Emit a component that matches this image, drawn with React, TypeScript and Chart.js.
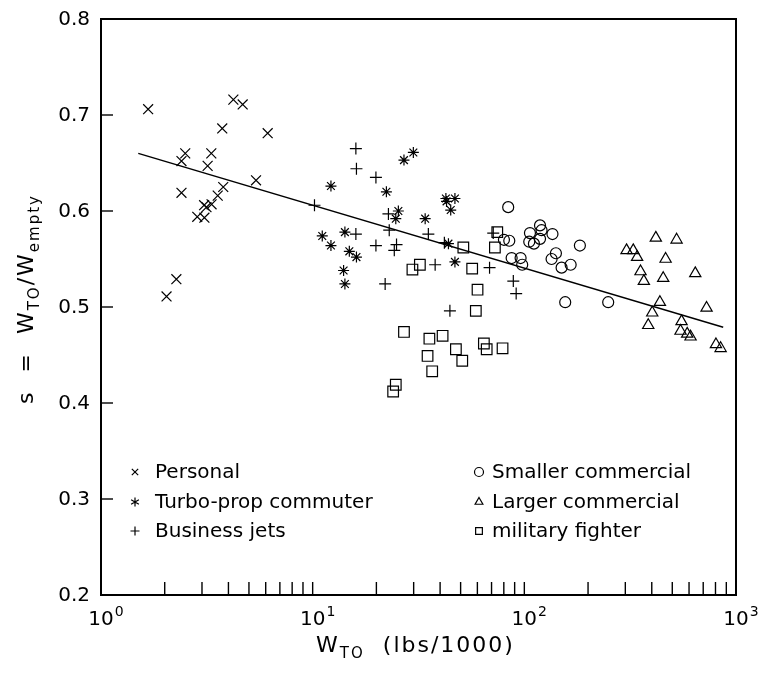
import React, { useEffect, useRef } from 'react';
import { Chart, registerables } from 'chart.js';

Chart.register(...registerables);

// ---------- data ----------
const personalX = [1.67, 4.22, 4.67, 3.74, 6.13, 2.5, 2.4, 3.32, 3.19, 5.4, 3.78, 3.56, 3.33, 3.07, 3.15, 2.85, 3.08, 2.4, 2.27, 2.04];
const personalY = [0.706, 0.716, 0.711, 0.686, 0.681, 0.66, 0.652, 0.66, 0.647, 0.632, 0.625, 0.616, 0.607, 0.606, 0.604, 0.594, 0.593, 0.619, 0.529, 0.511];

const turboX = [29.9, 27.0, 12.2, 22.3, 42.6, 47.0, 42.9, 44.9, 25.4, 24.7, 34.0, 11.1, 14.2, 12.2, 14.9, 16.1, 14.0, 14.2, 43.8, 47.0];
const turboY = [0.661, 0.653, 0.626, 0.62, 0.613, 0.613, 0.61, 0.601, 0.6, 0.592, 0.592, 0.574, 0.578, 0.564, 0.558, 0.552, 0.538, 0.524, 0.566, 0.547];

const bizX = [16.0, 16.1, 19.9, 10.2, 22.8, 23.0, 16.0, 19.9, 24.9, 24.3, 35.2, 41.9, 37.9, 22.0, 68.5, 71.3, 88.7, 91.5, 44.5];
const bizY = [0.665, 0.644, 0.635, 0.606, 0.597, 0.58, 0.576, 0.564, 0.565, 0.559, 0.576, 0.567, 0.544, 0.524, 0.541, 0.577, 0.527, 0.514, 0.496];

const smallX = [83.9, 118.6, 106.3, 120.6, 135.8, 80.1, 84.9, 105.5, 111, 118.6, 183, 141, 134.5, 87.1, 96.0, 97.7, 150, 165.5, 156, 249];
const smallY = [0.604, 0.585, 0.577, 0.58, 0.576, 0.57, 0.569, 0.568, 0.566, 0.571, 0.564, 0.556, 0.55, 0.551, 0.551, 0.544, 0.541, 0.544, 0.505, 0.505];

const largeX = [418, 524, 304, 327, 341, 465, 354, 367, 453, 437, 402, 385, 642, 726, 553, 547, 588, 610, 804, 846];
const largeY = [0.572, 0.57, 0.559, 0.559, 0.552, 0.55, 0.537, 0.527, 0.53, 0.505, 0.494, 0.481, 0.535, 0.499, 0.485, 0.475, 0.472, 0.469, 0.461, 0.457];

const militaryX = [51.5, 72.6, 74.5, 32.1, 29.6, 56.7, 60.1, 59.0, 27.0, 41.1, 35.6, 64.4, 66.4, 78.9, 47.5, 34.9, 50.9, 36.7, 24.7, 24.0];
const militaryY = [0.562, 0.562, 0.578, 0.544, 0.539, 0.54, 0.518, 0.496, 0.474, 0.47, 0.467, 0.462, 0.456, 0.457, 0.456, 0.449, 0.444, 0.433, 0.419, 0.412];

const fitX = [1.5, 870];
const fitY = [0.66, 0.479];

const yTicks = [0.2, 0.3, 0.4, 0.5, 0.6, 0.7, 0.8];
const xDecades = [1, 10, 100, 1000];
const xExponents = ['0', '1', '2', '3'];

const seriesNames = ['Personal', 'Turbo-prop commuter', 'Business jets', 'Smaller commercial', 'Larger commercial', 'military fighter'];
const seriesStyles = ['crossRot', 'star', 'cross', 'circle', 'triangle', 'rect'];
const seriesRadius = [7, 5.5, 6, 5.5, 6.5, 7.5];

// ---------- helpers ----------
const FONT = '"DejaVu Sans", sans-serif';
const pts = (xs: number[], ys: number[]) => xs.map((x, i) => ({ x, y: ys[i] }));

type Part = { t: string; size: number; dy: number };

function richWidth(ctx: CanvasRenderingContext2D, parts: Part[]) {
  let w = 0;
  for (const p of parts) {
    ctx.font = `${p.size}px ${FONT}`;
    w += ctx.measureText(p.t).width;
  }
  return w;
}

function drawRich(ctx: CanvasRenderingContext2D, parts: Part[], x: number, y: number, center: boolean) {
  let cx = center ? x - richWidth(ctx, parts) / 2 : x;
  ctx.textAlign = 'left';
  ctx.textBaseline = 'alphabetic';
  for (const p of parts) {
    ctx.font = `${p.size}px ${FONT}`;
    ctx.fillText(p.t, cx, y + p.dy);
    cx += ctx.measureText(p.t).width;
  }
}

function drawMarker(ctx: CanvasRenderingContext2D, style: string, x: number, y: number, r: number) {
  ctx.beginPath();
  if (style === 'crossRot') {
    const d = r * Math.SQRT1_2;
    ctx.moveTo(x - d, y - d); ctx.lineTo(x + d, y + d);
    ctx.moveTo(x - d, y + d); ctx.lineTo(x + d, y - d);
  } else if (style === 'star') {
    for (let k = 0; k < 3; k++) {
      const a = Math.PI / 2 + (k * Math.PI) / 3;
      ctx.moveTo(x + Math.cos(a) * r, y - Math.sin(a) * r);
      ctx.lineTo(x - Math.cos(a) * r, y + Math.sin(a) * r);
    }
  } else if (style === 'cross') {
    ctx.moveTo(x - r, y); ctx.lineTo(x + r, y);
    ctx.moveTo(x, y - r); ctx.lineTo(x, y + r);
  } else if (style === 'circle') {
    ctx.arc(x, y, r, 0, Math.PI * 2);
  } else if (style === 'triangle') {
    ctx.moveTo(x, y - r);
    ctx.lineTo(x + r * 0.866, y + r * 0.5);
    ctx.lineTo(x - r * 0.866, y + r * 0.5);
    ctx.closePath();
  } else if (style === 'rect') {
    ctx.rect(x - r * 0.75, y - r * 0.75, r * 1.5, r * 1.5);
  }
  ctx.stroke();
}

const overlay = {
  id: 'overlay',
  afterDraw(chart: any) {
    const { ctx, chartArea: a } = chart;
    const xs = chart.scales.x;
    const ys = chart.scales.y;
    ctx.save();
    ctx.fillStyle = '#000';
    ctx.strokeStyle = '#000';

    // frame
    ctx.lineWidth = 2;
    ctx.strokeRect(a.left, a.top, a.right - a.left, a.bottom - a.top);

    // y ticks + labels
    ctx.lineWidth = 1.4;
    ctx.font = `20px ${FONT}`;
    ctx.textAlign = 'right';
    ctx.textBaseline = 'middle';
    for (const v of yTicks) {
      const py = ys.getPixelForValue(v);
      ctx.beginPath();
      ctx.moveTo(a.left, py);
      ctx.lineTo(a.left + 12, py);
      ctx.stroke();
      ctx.fillText(v.toFixed(1), a.left - 11, py + 1);
    }

    // x ticks (major + minor, inward)
    for (let d = 0; d < xDecades.length - 1; d++) {
      for (let m = 1; m <= 9; m++) {
        const px = xs.getPixelForValue(xDecades[d] * m);
        ctx.beginPath();
        ctx.moveTo(px, a.bottom);
        ctx.lineTo(px, a.bottom - 13);
        ctx.stroke();
      }
    }
    // x tick labels 10^n
    xDecades.forEach((v, i) => {
      const px = xs.getPixelForValue(v);
      ctx.font = `20px ${FONT}`;
      ctx.textAlign = 'center';
      ctx.textBaseline = 'alphabetic';
      const w = ctx.measureText('10').width;
      ctx.fillText('10', px, a.bottom + 30);
      ctx.font = `14px ${FONT}`;
      ctx.textAlign = 'left';
      ctx.fillText(xExponents[i], px + w / 2 + 1, a.bottom + 21);
    });

    // x title
    (ctx as any).letterSpacing = '2px';
    drawRich(ctx, [
      { t: 'W', size: 22, dy: 0 },
      { t: 'TO', size: 15, dy: 6 },
      { t: '  (lbs/1000)', size: 22, dy: 0 },
    ], (a.left + a.right) / 2 - 3, a.bottom + 57, true);

    // y title
    (ctx as any).letterSpacing = '2px';
    ctx.save();
    ctx.translate(33, 299);
    ctx.rotate(-Math.PI / 2);
    drawRich(ctx, [
      { t: 's  =  W', size: 22, dy: 0 },
      { t: 'TO', size: 15, dy: 6 },
      { t: '/W', size: 22, dy: 0 },
      { t: 'empty', size: 15, dy: 6 },
    ], 0, 0, true);
    ctx.restore();
    (ctx as any).letterSpacing = '0px';

    // legend
    const rowsY = [472, 502, 531];
    const colMarkX = [135, 479];
    const colTextX = [155, 492];
    seriesNames.forEach((name, i) => {
      const col = i < 3 ? 0 : 1;
      const row = i % 3;
      ctx.lineWidth = 1.2;
      drawMarker(ctx, seriesStyles[i], colMarkX[col], rowsY[row], 4.5);
      ctx.font = `20px ${FONT}`;
      ctx.textAlign = 'left';
      ctx.textBaseline = 'middle';
      ctx.fillText(name, colTextX[col], rowsY[row] + 1);
    });

    ctx.restore();
  },
};

export default function App() {
  const ref = useRef<HTMLCanvasElement>(null);

  useEffect(() => {
    if (!ref.current) return;
    const series = [
      pts(personalX, personalY),
      pts(turboX, turboY),
      pts(bizX, bizY),
      pts(smallX, smallY),
      pts(largeX, largeY),
      pts(militaryX, militaryY),
    ];
    const datasets: any[] = series.map((data, i) => ({
      type: 'scatter',
      label: seriesNames[i],
      data,
      pointStyle: seriesStyles[i],
      pointRadius: seriesRadius[i],
      pointBorderWidth: 1.2,
      borderColor: '#000',
      backgroundColor: 'rgba(0,0,0,0)',
      pointBackgroundColor: 'rgba(0,0,0,0)',
    }));
    datasets.push({
      type: 'line',
      label: 'fit',
      data: pts(fitX, fitY),
      borderColor: '#000',
      borderWidth: 1.5,
      pointRadius: 0,
      fill: false,
    });

    const chart = new Chart(ref.current, {
      type: 'scatter',
      data: { datasets },
      options: {
        animation: false,
        responsive: false,
        devicePixelRatio: 1,
        layout: { padding: { left: 101, right: 29, top: 19, bottom: 80 } },
        scales: {
          x: { type: 'logarithmic', min: 1, max: 1000, display: false },
          y: { type: 'linear', min: 0.2, max: 0.8, display: false },
        },
        plugins: { legend: { display: false }, tooltip: { enabled: false } },
      },
      plugins: [overlay],
    } as any);
    return () => chart.destroy();
  }, []);

  return (
    <div style={{ position: 'fixed', left: 0, top: 0, width: 765, height: 675, background: '#fff' }}>
      <canvas ref={ref} width={765} height={675} />
    </div>
  );
}
